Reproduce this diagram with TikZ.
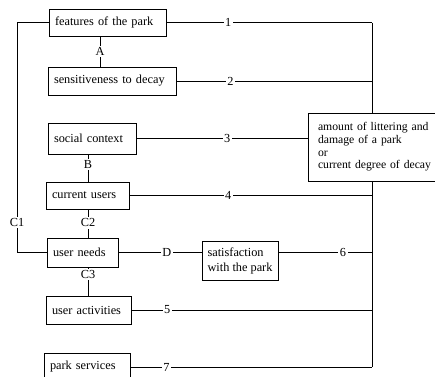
\documentclass[tikz,border=0pt]{standalone}
\usepackage{fontspec}
\setmainfont{Liberation Serif}
\begin{document}
\begin{tikzpicture}[x=1pt,y=-1pt,
  font=\fontsize{12.3}{14}\selectfont,
  box/.style={draw, line width=0.9pt, inner xsep=6pt, inner ysep=0pt, align=left, anchor=center},
  lab/.style={fill=white, inner sep=1.5pt},
  conn/.style={line width=0.9pt}]
\path[use as bounding box, clip] (0,0) rectangle (435,376);
\fill[white] (0,0) rectangle (435,376);
% boxes
\node[box, text width=105pt, minimum height=27pt] (feat) at (107.5,22.5) {features of the park};
\node[box, text width=116pt, minimum height=28pt] (sens) at (112,81) {sensitiveness to decay};
\node[box, text width=76pt, minimum height=31pt] (soc) at (92,138.5) {social context};
\node[box, text width=71pt, minimum height=27pt] (cur) at (87.5,195.5) {current users};
\node[box, text width=59pt, minimum height=29pt] (need) at (82.5,252.5) {user needs};
\node[box, text width=73pt, minimum height=28pt] (act) at (88.5,310) {user activities};
\node[box, text width=74pt, minimum height=28pt] (serv) at (87,367) {park services};
\node[box, inner xsep=0pt, minimum width=76pt, minimum height=39pt, font=\fontsize{12.3}{15}\selectfont] (sat) at (240,260.5) {satisfaction\\with the park};
\node[box, inner xsep=10pt, text width=130pt, minimum height=68pt, font=\fontsize{11.7}{12.6}\selectfont] (amt) at (383,147) {amount of littering and\\damage of a park\\or\\current degree of decay};
% helper coordinates
\coordinate (xA) at (100,0);
\coordinate (xB) at (88,0);
\coordinate (bus) at (372,0);
\coordinate (xL) at (17,0);
% vertical connectors
\draw[conn] (feat.south -| xA) -- node[lab, pos=0.5]{A} (sens.north -| xA);
\draw[conn] (soc.south -| xB) -- node[lab, pos=0.38]{B} (cur.north -| xB);
\draw[conn] (cur.south -| xB) -- node[lab, pos=0.48]{C2} (need.north -| xB);
\draw[conn] (need.south -| xB) -- node[lab, pos=0.25]{C3} (act.north -| xB);
% left loop C1
\draw[conn] (feat.west) -- (feat.west -| xL) -- node[lab, pos=0.87]{C1} (need.west -| xL) -- (need.west);
% horizontal connectors to bus
\draw[conn] (feat.east) -- node[lab, pos=0.30]{1} (feat.east -| bus);
\draw[conn] (sens.east) -- node[lab, pos=0.276]{2} (sens.east -| bus);
\draw[conn] (soc.east) -- node[lab, pos=0.53]{3} (soc.east -| amt.west);
\draw[conn] (cur.east) -- node[lab, pos=0.407]{4} (cur.east -| bus);
\draw[conn] (need.east) -- node[lab, pos=0.583]{D} (need.east -| sat.west);
\draw[conn] (sat.east |- need.east) -- node[lab, pos=0.69]{6} (need.east -| bus);
\draw[conn] (act.east) -- node[lab, pos=0.149]{5} (act.east -| bus);
\draw[conn] (serv.east) -- node[lab, pos=0.149]{7} (serv.east -| bus);
% bus
\draw[conn] (feat.east -| bus) -- (amt.north -| bus);
\draw[conn] (amt.south -| bus) -- (serv.east -| bus);
\end{tikzpicture}
\end{document}
